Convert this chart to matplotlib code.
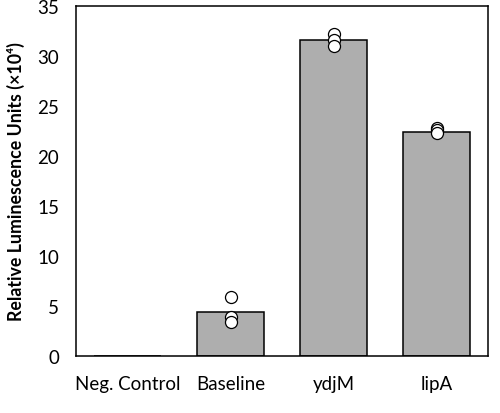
import matplotlib
matplotlib.use("Agg")
import matplotlib.pyplot as plt

categories = ["Neg. Control", "Baseline", "ydjM", "lipA"]
means = [0.05, 4.37, 31.6, 22.4]
points = [
    [],
    [5.87, 3.93, 3.37],
    [32.2, 31.6, 31.0],
    [22.8, 22.6, 22.3],
]
yticks = [0, 5, 10, 15, 20, 25, 30, 35]

plt.rcParams['font.family'] = ['Lato', 'DejaVu Sans']

fig = plt.figure(figsize=(5.0, 4.14), dpi=100)
ax = fig.add_axes([76/500, 1 - 357/414, 412/500, 350/414])

x = list(range(len(categories)))
ax.bar(x, means, width=0.66, color='#aeaeae', edgecolor='black', linewidth=1.1, zorder=2)
for i, pts in enumerate(points):
    ax.scatter([i] * len(pts), pts, s=75, facecolor='white', edgecolor='black',
               linewidth=0.9, zorder=3)

ax.set_xlim(-0.5, 3.5)
ax.set_ylim(0, 35)
ax.set_yticks(yticks)
ax.set_xticks(x)
ax.set_xticklabels(categories)
ax.tick_params(axis='both', length=0, labelsize=13.5)
ax.tick_params(axis='x', pad=14)
ax.tick_params(axis='y', pad=12)
for s in ax.spines.values():
    s.set_linewidth(1.1)
ax.set_ylabel("Relative Luminescence Units (×10⁴)", fontsize=12.8, fontweight='bold', labelpad=9)

fig.savefig("out.png", dpi=100)
